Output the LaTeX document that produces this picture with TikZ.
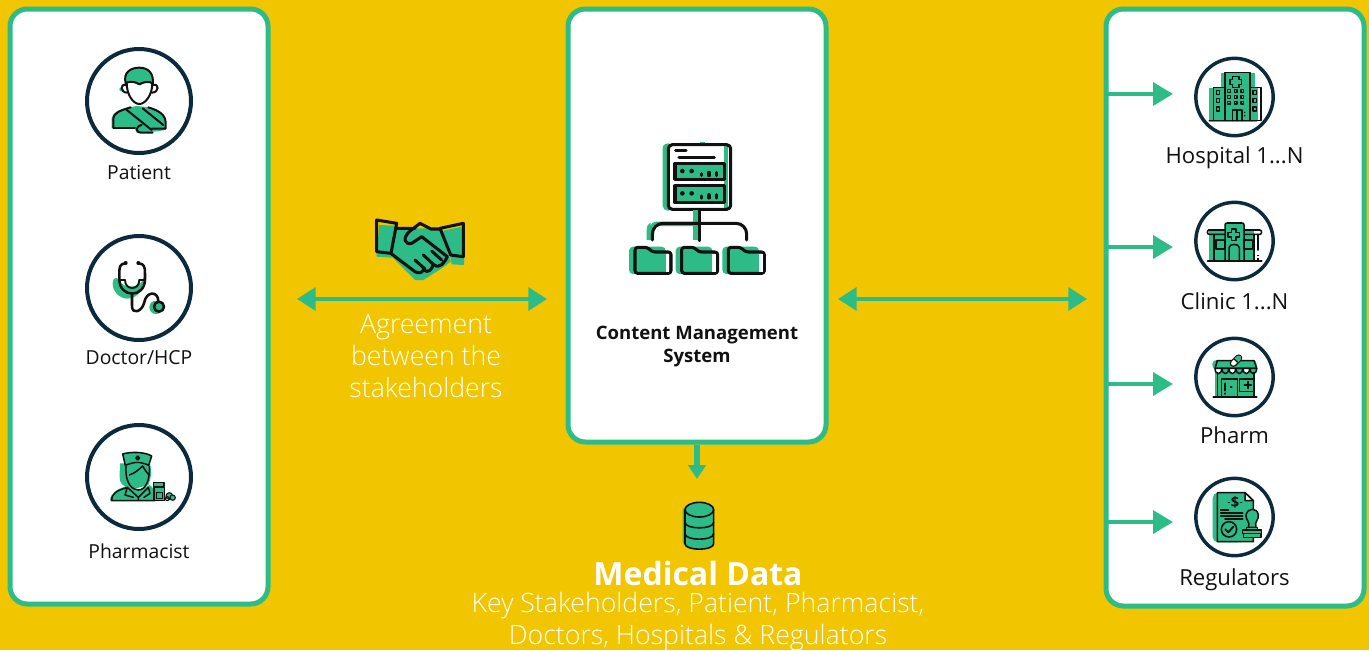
\documentclass[tikz,border=0pt]{standalone}
\usepackage{fontspec}
\setmainfont{Open Sans}
\newfontfamily\lightfont[UprightFont={* Light}]{Open Sans}
\usetikzlibrary{arrows.meta}
\definecolor{bgy}{HTML}{F1C500}
\definecolor{grn}{HTML}{2DBC88}
\definecolor{navy}{HTML}{0C2A3D}
\definecolor{ink}{HTML}{111111}
\tikzset{
 panel/.style={draw=grn,fill=white,line width=3.75pt,rounded corners=13pt,minimum width=193.5pt,inner sep=0pt},
 ring/.style={circle,draw=navy,fill=white,line width=3pt,inner sep=0pt},
 biglbl/.style={text=ink,font=\fontsize{14.5pt}{16pt}\selectfont,inner sep=0pt},
 rlbl/.style={text=ink,font=\fontsize{16.6pt}{18pt}\selectfont,inner sep=0pt},
 wl/.style={text=white,font=\fontsize{20pt}{24pt}\lightfont,inner sep=0pt},
 link/.style={draw=grn,line width=3.4pt,-{Triangle[length=15pt,width=17pt]}},
 dlink/.style={draw=grn,line width=3.3pt,{Triangle[length=14pt,width=17pt]}-{Triangle[length=14pt,width=17pt]}},
 zoomed/.style={shift={(#1)},x=0.25pt,y=-0.25pt},
 ln/.style={draw=ink,line width=1.5pt,line cap=round,line join=round},
 thin ln/.style={draw=ink,line width=1.15pt,line cap=round,line join=round},
}
\begin{document}
\begin{tikzpicture}[x=0.75pt,y=-0.75pt]
\useasboundingbox (0,0) rectangle (1369,650);
\fill[bgy] (0,0) rectangle (1369,650);
% panels
\node[panel,minimum height=446.25pt] (leftbox) at (139,306.5) {};
\node[panel,minimum height=324.75pt] (midbox) at (697,225.5) {};
\node[panel,minimum height=447.75pt] (rightbox) at (1235,307.5) {};
% left rings
\node[ring,minimum size=78pt] (patient) at (139,101) {};
\node[ring,minimum size=78pt] (doctor) at (139,288) {};
\node[ring,minimum size=78pt] (pharmacist) at (139,477) {};
\node[biglbl] (lpatient) at (139,172) {Patient};
\node[biglbl] (ldoctor) at (139,358) {Doctor/HCP};
\node[biglbl] (lpharmacist) at (139,551) {Pharmacist};
% right rings
\node[ring,line width=2.6pt,minimum size=58pt] (hospital) at (1234.5,97) {};
\node[ring,line width=2.6pt,minimum size=58pt] (clinic) at (1234.5,241) {};
\node[ring,line width=2.6pt,minimum size=58pt] (pharm) at (1234.5,377) {};
\node[ring,line width=2.6pt,minimum size=58pt] (regul) at (1234.5,517) {};
\node[rlbl] (lhospital) at (1234.5,157.5) {Hospital 1...N};
\node[rlbl] (lclinic) at (1234.5,301) {Clinic 1...N};
\node[rlbl] (lpharm) at (1234.5,435) {Pharm};
\node[rlbl] (lregul) at (1234.5,579.5) {Regulators};
% texts
\node[font=\fontsize{13.9pt}{17.2pt}\bfseries\selectfont,text=ink,align=center,inner sep=0pt] (cms) at (697,346.5) {Content Management\\System};
\node[wl] (ag1) at (426,327) {Agreement};
\node[wl] (ag2) at (426,355.5) {between the};
\node[wl] (ag3) at (426,387) {stakeholders};
\node[font=\fontsize{24pt}{28pt}\bfseries\selectfont,text=white,inner sep=0pt] (med) at (698,573) {Medical Data};
\node[wl] (k1) at (698,606) {Key Stakeholders, Patient, Pharmacist,};
\node[wl] (k2) at (698,638) {Doctors, Hospitals \& Regulators};
% connectors
\coordinate (la) at (297,299); \coordinate (lb) at (547,299);
\coordinate (ra) at (838,299); \coordinate (rb) at (1087,299);
\coordinate (da) at (697,445); \coordinate (db) at (697,479);
\draw[dlink] (la) -- (lb);
\draw[dlink] (ra) -- (rb);
\draw[link,line width=3.8pt,-{Triangle[length=10.5pt,width=13pt]}] (da) -- (db);
\foreach \y/\n in {94/h,247/c,384/p,522/r}{
 \coordinate (s\n) at (1107,\y); \coordinate (e\n) at (1173,\y);
 \draw[link] (s\n) -- (e\n);
}
% ---- patient
\begin{scope}[zoomed={70,30}]
\fill[grn] (125,295) -- (125,265) .. controls (128,250) and (140,243) .. (160,236) -- (200,228) -- (240,232) .. controls (270,240) and (287,255) .. (287,280) -- (287,300) -- (230,308) -- (200,308) -- (195,297) -- cycle;
\fill[grn] (154,178) circle (6);
\path[ln,fill=grn] (167,160) .. controls (158,125) and (185,113) .. (208,113) .. controls (235,113) and (253,130) .. (248,165) .. controls (240,155) and (225,155) .. (208,163) .. controls (195,155) and (178,155) .. (167,160);
\path[ln,fill=white] (170,158) .. controls (170,195) and (190,222) .. (208,222) .. controls (226,222) and (247,195) .. (247,160) .. controls (240,153) and (222,155) .. (208,163) .. controls (195,155) and (180,153) .. (170,158);
\draw[ln] (168,165) .. controls (150,160) and (150,188) .. (172,188);
\draw[ln] (250,165) .. controls (268,160) and (268,188) .. (245,188);
\draw[ln] (130,292) -- (130,265) .. controls (132,250) and (145,243) .. (182,232);
\draw[ln] (235,232) .. controls (270,243) and (287,255) .. (287,280) -- (287,296) -- (245,296);
\draw[ln] (130,294) -- (195,294);
\draw[ln] (168,238) -- (245,300);
\draw[ln] (218,235) -- (280,285);
\draw[ln] (215,285) .. controls (195,290) and (195,308) .. (215,308) -- (248,308);
\end{scope}
% ---- doctor
\begin{scope}[zoomed={70,220}]
\fill[grn] (128,190) .. controls (130,165) and (145,175) .. (150,182) .. controls (155,205) and (215,210) .. (222,170) .. controls (232,195) and (205,238) .. (170,236) .. controls (145,232) and (128,215) .. (128,190);
\fill[grn] (258,262) circle (20);
\draw[ln,line width=1.9pt] (165,130) .. controls (150,132) and (148,140) .. (148,160) -- (148,178) .. controls (148,235) and (225,235) .. (225,178) -- (225,160) .. controls (225,140) and (222,132) .. (207,130);
\draw[ln,line width=1.4pt] (165,180) .. controls (165,212) and (208,212) .. (208,180);
\draw[ln,line width=1.4pt] (148,180) -- (165,180) (208,180) -- (225,180);
\draw[ln,line width=1.9pt] (186,225) -- (186,258) .. controls (186,285) and (215,275) .. (222,250) .. controls (228,212) and (265,212) .. (265,244);
\filldraw[ln,line width=1.9pt,fill=grn] (267,260) circle (15);
\fill[ink] (167,129) circle (6) (205,129) circle (6);
\end{scope}
% ---- pharmacist
\begin{scope}[zoomed={70,410}]
\fill[grn] (150,160) .. controls (150,190) and (145,210) .. (155,222) -- (180,240) -- (235,225) .. controls (245,200) and (245,185) .. (240,160) -- cycle;
\fill[grn] (120,272) .. controls (122,250) and (135,240) .. (170,228) -- (205,240) -- (240,225) -- (255,240) -- (255,272) -- cycle;
\path[thin ln,fill=grn] (158,132) .. controls (180,125) and (225,125) .. (245,138) -- (236,166) .. controls (215,155) and (190,155) .. (166,166) -- cycle;
\fill[ink] (199,137) rectangle (207,151) (196,140.5) rectangle (210,147.5);
\draw[thin ln] (168,170) .. controls (165,225) and (190,240) .. (205,240) .. controls (225,240) and (240,215) .. (238,170);
\draw[thin ln] (178,195) .. controls (195,190) and (210,175) .. (218,168) .. controls (225,180) and (232,190) .. (237,195);
\draw[thin ln] (125,272) .. controls (125,250) and (140,242) .. (172,232) -- (205,262) -- (235,232) (205,262) -- (205,272) (172,232) -- (165,255) -- (190,262) (235,232) -- (240,250) -- (222,262) (125,272) -- (255,272);
\path[thin ln,fill=grn] (252,232) rectangle (284,272);
\path[thin ln,fill=grn] (250,218) rectangle (282,230);
\draw[thin ln] (260,248) rectangle (277,265);
\path[thin ln,line width=.8pt,fill=grn] (298,258) circle (10);
\path[thin ln,line width=.8pt,fill=grn] (308,263) circle (8);
\draw[thin ln,line width=.8pt] (292,266) circle (6);
\end{scope}
% ---- CMS icon
\begin{scope}[zoomed={610,130}]
\fill[grn] (158,55) .. controls (158,45) and (165,40) .. (178,40) -- (178,242) .. controls (165,242) and (158,236) .. (158,228) -- cycle;
\fill[grn] (343,46) rectangle (355,236);
\fill[grn] (270,36) rectangle (284,48);
\draw[ln,line width=2.3pt,rounded corners=3pt] (175,44) rectangle (362,238);
\draw[ln,line width=2.3pt] (197,62) -- (228,62) (207,82) -- (313,82);
\path[ln,line width=2.3pt,fill=grn] (195,100) rectangle (343,148);
\path[ln,line width=2.3pt,fill=grn] (195,167) rectangle (343,218);
\foreach \yy in {123,190}{
 \fill[ink] (217,\yy) circle (7) (245,\yy) circle (7);
 \draw[ln,line width=2.3pt] (275,\yy+14) -- (275,\yy+8) (297,\yy+14) -- (297,\yy+4) (320,\yy+14) -- (320,\yy+4);
}
\fill[grn] (250,240) rectangle (263,330);
\fill[grn] (122,290) .. controls (122,280) and (130,275) .. (140,275) -- (250,275) -- (250,288) -- (140,288) -- (130,288) -- (130,330) -- (110,330) -- (110,300) .. controls (110,288) and (115,280) .. (122,278) -- cycle;
\draw[ln,line width=2.3pt] (268,238) -- (268,332);
\draw[ln,line width=2.3pt,rounded corners=8pt] (127,330) -- (127,280) -- (410,280) -- (410,330);
\foreach \xx in {75,215,355}{
 \fill[grn,rounded corners=3pt] (\xx-18,350) rectangle (\xx+92,432);
 \path[ln,line width=2.3pt,rounded corners=2pt,fill=grn] (\xx,352) -- (\xx+37,352) -- (\xx+52,366) -- (\xx+108,366) -- (\xx+108,430) -- (\xx,430) -- cycle;
 \fill[white] (\xx+92,372) rectangle (\xx+103,425);
}
\end{scope}
% ---- handshake
\begin{scope}[zoomed={360,205}]
\fill[grn] (50,100) -- (100,100) -- (95,158) -- (50,155) -- cycle;
\fill[grn] (262,110) -- (312,110) -- (312,180) -- (275,178) -- cycle;
\fill[grn] (95,155) -- (165,225) -- (190,225) -- (245,190) -- (272,170) -- (240,70) -- (110,70) -- cycle;
\path[fill=grn] (57,60) -- (108,62) -- (93,143) -- (52,140) -- cycle;
\path[fill=grn] (245,78) -- (305,65) -- (308,155) -- (272,150) -- cycle;
\draw[ln,line width=2.3pt] (50,45) -- (110,55) -- (93,145) -- (50,140) -- cycle;
\draw[ln,line width=2.3pt] (240,70) -- (310,55) -- (310,155) -- (272,150) -- cycle;
\draw[ln,line width=2.3pt] (108,70) -- (165,70) (240,72) -- (213,72) -- (180,55) -- (150,78) .. controls (125,100) and (135,120) .. (155,115) -- (185,95) -- (262,155);
\draw[ln,line width=2.3pt] (95,147) -- (165,200) .. controls (175,205) and (185,205) .. (190,195) (165,165) -- (195,192) (190,150) -- (220,178) .. controls (240,195) and (255,170) .. (262,155) (215,138) -- (245,165);
\draw[ln,line width=2.3pt] (190,195) .. controls (205,205) and (215,195) .. (220,178);
\end{scope}
% ---- hospital
\begin{scope}[zoomed={1180,50}]
\fill[grn] (122,70) rectangle (225,215);
\fill[grn] (88,113) rectangle (232,217);
\path[thin ln,fill=grn] (100,113) rectangle (135,212);
\path[thin ln,fill=grn] (210,113) rectangle (243,212);
\fill[white] (233,115) rectangle (241,210);
\path[thin ln,fill=grn] (135,68) rectangle (210,212);
\path[thin ln] (157,80) -- (177,80) -- (177,88) -- (185,88) -- (185,104) -- (177,104) -- (177,112) -- (158,112) -- (158,104) -- (150,104) -- (150,88) -- (157,88) -- cycle;
\foreach \xx in {147,167,187}\foreach \yy in {123,141,158}{\draw[thin ln,line width=1.1pt] (\xx-4,\yy-4) rectangle (\xx+4,\yy+4);}
\foreach \xx in {114,224}\foreach \yy in {127,152,177}{\draw[thin ln,line width=1.1pt] (\xx-5,\yy-6) rectangle (\xx+5,\yy+6);}
\draw[thin ln] (157,212) -- (157,180) -- (186,180) -- (186,212) (171,180) -- (171,212);
\fill[ink] (194,187) circle (2.5) (194,197) circle (2.5);
\draw[thin ln] (88,212) -- (243,212);
\end{scope}
% ---- clinic
\begin{scope}[zoomed={1180,195}]
\fill[grn] (88,105) rectangle (222,198);
\path[thin ln,fill=grn] (135,90) .. controls (135,85) and (137,84) .. (142,84) -- (185,84) .. controls (190,84) and (192,85) .. (192,90) -- (192,198) -- (135,198) -- cycle;
\draw[thin ln] (85,105) -- (135,105) (192,105) -- (240,105) .. controls (246,105) and (246,118) .. (240,118) -- (192,118) (135,118) -- (88,118) .. controls (80,118) and (80,105) .. (88,105);
\draw[thin ln] (102,118) -- (102,198) (222,118) -- (222,198) (234,118) -- (234,165);
\draw[ink,line width=1pt] (234,180) -- (234,183) (234,190) -- (234,196);
\draw[thin ln] (154,102) -- (168,102) -- (168,112) -- (178,112) -- (178,126) -- (168,126) -- (168,136) -- (154,136) -- (154,126) -- (144,126) -- (144,112) -- (154,112) -- cycle;
\draw[thin ln] (147,198) -- (147,158) .. controls (147,145) and (178,145) .. (178,158) -- (178,198);
\draw[thin ln] (108,135) rectangle (135,162) (192,135) rectangle (218,162);
\draw[thin ln,line width=1.4pt] (83,198) -- (245,198);
\end{scope}
% ---- pharm
\begin{scope}[zoomed={1180,330}]
\fill[grn,rounded corners=3pt] (97,90) rectangle (230,118);
\fill[grn] (104,118) rectangle (222,202);
\draw[thin ln] (112,92) -- (222,92) -- (230,115);
\draw[thin ln] (112,92) -- (105,115) -- (230,115);
\foreach \xx/\cc in {105/white,126/grn,147/white,168/grn,189/white,210/grn}{\path[thin ln,fill=\cc] (\xx,115) -- (\xx+20,115) .. controls (\xx+20,136) and (\xx,136) .. (\xx,115);}
\draw[thin ln] (112,128) -- (112,202) (222,128) -- (222,202);
\draw[thin ln,line width=1.4pt] (100,202) -- (230,202);
\draw[thin ln] (125,202) -- (125,147) -- (172,147) -- (172,202);
\draw[thin ln,line width=1.4pt] (136,160) -- (136,182) (136,190) -- (136,192) (152,172) -- (155,172);
\draw[thin ln] (178,147) rectangle (222,185);
\draw[thin ln,line width=1.5pt] (203,155) -- (203,175) (193,165) -- (213,165);
\draw[ink,line width=5.4pt,line cap=round] (160,100) -- (176,84);
\draw[white,line width=3.4pt,line cap=round] (160,100) -- (176,84);
\draw[grn,line width=3.4pt,line cap=round] (172,88) -- (176,84);
\draw[ink,line width=.9pt] (163,87) -- (173,97);
\end{scope}
% ---- regulators
\begin{scope}[zoomed={1180,470}]
\fill[grn,rounded corners=4pt] (98,68) rectangle (190,217);
\path[thin ln,fill=grn] (112,68) -- (195,68) -- (220,92) -- (220,215) -- (112,215) -- cycle;
\path[thin ln,fill=white] (195,68) -- (195,92) -- (220,92) -- cycle;
\node[font=\fontsize{11pt}{12pt}\bfseries\selectfont,text=ink,inner sep=0pt] (dollar) at (165,97) {\$};
\draw[thin ln,line width=1.2pt] (145,97) -- (148,97) (182,97) -- (185,97);
\draw[thin ln,line width=1.2pt] (122,120) -- (145,120) (122,129) -- (188,129) (122,138) -- (188,138) (135,147) -- (188,147);
\path[thin ln,line width=1.2pt] (147,178) circle (23);
\draw[thin ln,line width=1.4pt] (136,178) -- (145,187) -- (160,170);
\path[thin ln,fill=grn] (205,172) .. controls (212,155) and (196,150) .. (198,135) .. controls (203,112) and (232,112) .. (235,135) .. controls (237,150) and (222,155) .. (228,172) -- cycle;
\path[thin ln,fill=grn] (188,180) rectangle (245,190);
\path[thin ln,fill=grn] (190,190) rectangle (243,202);
\path[thin ln,fill=grn] (200,172) rectangle (232,180);
\end{scope}
% ---- database
\begin{scope}[zoomed={660,435}]
\fill[grn] (68,225) .. controls (68,215) and (95,205) .. (117,205) -- (117,340) .. controls (90,340) and (68,335) .. (68,320) -- cycle;
\path[ln,fill=grn,line width=1.2pt] (75,224) -- (75,326) .. controls (75,348) and (161,348) .. (161,326) -- (161,224);
\path[ln,fill=grn,line width=1.2pt] (118,224) ellipse (43 and 22);
\draw[ln,line width=1.2pt] (75,262) .. controls (75,284) and (161,284) .. (161,262);
\draw[ln,line width=1.2pt] (75,296) .. controls (75,318) and (161,318) .. (161,296);
\end{scope}
\end{tikzpicture}
\end{document}
